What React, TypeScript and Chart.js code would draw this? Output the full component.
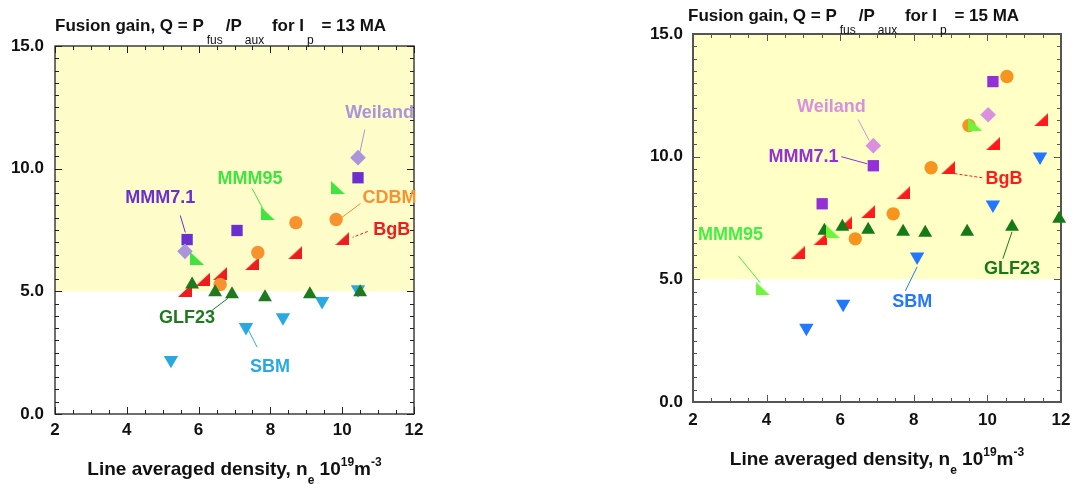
import React, { useEffect, useRef } from "react";
import { Chart, registerables } from "chart.js";
Chart.register(...registerables);

const FF = '"Liberation Sans", Arial, sans-serif';

// Axis ranges / tick labels
const X_MIN = 2, X_MAX = 12, X_STEP = 2;
const Y_MIN = 0, Y_MAX = 15, Y_STEP = 5;
const BAND_FROM = 5, BAND_TO = 15;

// ---------- Panel A: Ip = 13 MA ----------
const A_MMM71_X = [5.68, 7.07, 10.44];
const A_MMM71_Y = [7.11, 7.48, 9.63];
const A_WEILAND_X = [5.62, 10.44];
const A_WEILAND_Y = [6.63, 10.45];
const A_MMM95_X = [5.96, 7.93, 9.88];
const A_MMM95_Y = [6.34, 8.17, 9.23];
const A_CDBM_X = [6.6, 7.65, 8.71, 9.83];
const A_CDBM_Y = [5.28, 6.58, 7.8, 7.93];
const A_BGB_X = [5.62, 6.12, 6.6, 7.49, 8.69, 10.0];
const A_BGB_Y = [5.04, 5.49, 5.73, 6.13, 6.58, 7.15];
const A_GLF23_X = [5.82, 6.46, 6.93, 7.85, 9.1, 10.5];
const A_GLF23_Y = [5.28, 4.96, 4.88, 4.76, 4.88, 4.96];
const A_SBM_X = [5.23, 7.32, 8.35, 9.44, 10.44];
const A_SBM_Y = [2.2, 3.54, 3.94, 4.6, 5.08];

// ---------- Panel B: Ip = 15 MA ----------
const B_MMM71_X = [5.51, 6.9, 10.15];
const B_MMM71_Y = [8.08, 9.63, 13.06];
const B_WEILAND_X = [6.9, 10.02];
const B_WEILAND_Y = [10.45, 11.71];
const B_MMM95_X = [3.91, 5.81, 9.67];
const B_MMM95_Y = [4.61, 6.94, 11.31];
const B_CDBM_X = [6.41, 7.44, 8.47, 9.5, 10.53];
const B_CDBM_Y = [6.65, 7.67, 9.55, 11.27, 13.27];
const B_BGB_X = [4.84, 5.46, 6.14, 6.76, 7.71, 8.93, 10.15, 11.46];
const B_BGB_Y = [6.08, 6.65, 7.31, 7.76, 8.53, 9.55, 10.53, 11.51];
const B_GLF23_X = [5.57, 6.06, 6.76, 7.71, 8.31, 9.45, 10.67, 11.95];
const B_GLF23_Y = [6.98, 7.14, 7.02, 6.94, 6.9, 6.94, 7.14, 7.47];
const B_SBM_X = [5.08, 6.08, 8.09, 10.15, 11.43];
const B_SBM_Y = [3.02, 4.0, 5.92, 8.04, 10.0];

// Annotation labels: [text, textX, textY, lineX1, lineY1, lineX2, lineY2] in data units
type Ann = [string, number, number, number, number, number, number];
const A_LABELS: Ann[] = [
  ["Weiland", 11.04, 12.28, 10.63, 11.59, 10.49, 10.65],
  ["MMM7.1", 4.93, 8.82, 5.49, 8.09, 5.63, 7.4],
  ["MMM95", 7.43, 9.59, 7.49, 9.19, 7.85, 8.21],
  ["CDBM", 11.32, 8.82, 10.51, 8.58, 9.99, 8.01],
  ["BgB", 11.38, 7.48, 10.71, 7.44, 10.29, 7.2],
  ["GLF23", 5.68, 3.9, 6.38, 4.23, 6.82, 4.72],
  ["SBM", 7.99, 1.91, 7.63, 2.72, 7.35, 3.54],
];
const B_LABELS: Ann[] = [
  ["Weiland", 5.76, 12.04, 6.49, 11.51, 6.79, 10.65],
  ["MMM7.1", 5.0, 10.0, 6.03, 10.0, 6.73, 9.71],
  ["BgB", 10.45, 9.1, 9.86, 9.14, 8.93, 9.35],
  ["MMM95", 3.02, 6.82, 3.23, 5.96, 3.83, 4.86],
  ["SBM", 7.96, 4.08, 7.77, 4.53, 8.09, 5.51],
  ["GLF23", 10.67, 5.43, 10.42, 5.84, 10.67, 6.94],
];
const DASHED_LABELS = ["BgB"];

const A_TITLE_MA = "13";
const B_TITLE_MA = "15";

type Colors = Record<string, string>;
const A_COLORS: Colors = {
  "MMM7.1": "#6a2fd0",
  Weiland: "#aa94dc",
  MMM95: "#3fe43f",
  CDBM: "#f7922e",
  BgB: "#ee1c1c",
  GLF23: "#1f7a1f",
  SBM: "#29a9e1",
};
const B_COLORS: Colors = {
  "MMM7.1": "#9430d8",
  Weiland: "#da8fdf",
  MMM95: "#6df53a",
  CDBM: "#f7941d",
  BgB: "#ff1a1a",
  GLF23: "#157a15",
  SBM: "#2277ff",
};
const B_TEXT_COLORS: Colors = { ...B_COLORS, MMM95: "#44ee44" };

type Part = { t: string; k?: "sub" | "sup" };

function drawRich(
  ctx: CanvasRenderingContext2D,
  parts: Part[],
  x: number,
  y: number,
  size: number,
  small: number,
  smallWeight: string,
  subDy: number,
  supDy: number,
  subGap: number,
  align: "left" | "center",
  color: string
) {
  const mainF = `bold ${size}px ${FF}`;
  const smallF = `${smallWeight} ${small}px ${FF}`;
  const widths = parts.map((p) => {
    ctx.font = p.k ? smallF : mainF;
    return ctx.measureText(p.t).width + (p.k === "sub" ? 2 * subGap : 0);
  });
  const total = widths.reduce((a, b) => a + b, 0);
  let cx = align === "center" ? x - total / 2 : x;
  ctx.fillStyle = color;
  ctx.textAlign = "left";
  ctx.textBaseline = "alphabetic";
  parts.forEach((p, i) => {
    ctx.font = p.k ? smallF : mainF;
    const dy = p.k === "sub" ? subDy : p.k === "sup" ? supDy : 0;
    ctx.fillText(p.t, cx + (p.k === "sub" ? subGap : 0), y + dy);
    cx += widths[i];
  });
}

function rightTriangle(color: string, w: number, h: number, mirror: boolean) {
  const c = document.createElement("canvas");
  c.width = w;
  c.height = h;
  const g = c.getContext("2d")!;
  g.fillStyle = color;
  g.beginPath();
  if (mirror) {
    g.moveTo(0, 0);
    g.lineTo(0, h);
    g.lineTo(w, h);
  } else {
    g.moveTo(0, h);
    g.lineTo(w, h);
    g.lineTo(w, 0);
  }
  g.closePath();
  g.fill();
  return c;
}

interface PanelSpec {
  ma: string;
  colors: Colors;
  textColors: Colors;
  labels: Ann[];
  series: { name: string; xs: number[]; ys: number[] }[];
  area: { left: number; right: number; top: number; bottom: number };
  canvasW: number;
  canvasH: number;
  frameColor: string;
  frameWidth: number;
  band: string;
  titleX: number;
  titleY: number;
  axisTitleY: number;
  xLabelPad: number;
  yLabelPad: number;
}

function pts(xs: number[], ys: number[]) {
  return xs.map((x, i) => ({ x, y: ys[i] }));
}

function makeConfig(s: PanelSpec): any {
  const c = s.colors;
  const styleFor = (name: string): any => {
    switch (name) {
      case "Weiland":
        return { pointStyle: "rectRot", pointRadius: 7.8, rotation: 0 };
      case "MMM95":
        return { pointStyle: rightTriangle(c.MMM95, 14, 13, true), pointRadius: 7 };
      case "GLF23":
        return { pointStyle: "triangle", pointRadius: 8, rotation: 0 };
      case "MMM7.1":
        return { pointStyle: "rect", pointRadius: 8, rotation: 0 };
      case "CDBM":
        return { pointStyle: "circle", pointRadius: 6.7, rotation: 0 };
      case "BgB":
        return { pointStyle: rightTriangle(c.BgB, 14, 13, false), pointRadius: 7 };
      case "SBM":
        return { pointStyle: "triangle", pointRadius: 8.3, rotation: 180 };
    }
    return {};
  };
  const datasets = s.series.map((se) => ({
    label: se.name,
    data: pts(se.xs, se.ys),
    backgroundColor: c[se.name],
    borderColor: c[se.name],
    borderWidth: 0,
    showLine: false,
    clip: false,
    pointHoverRadius: 0,
    ...styleFor(se.name),
  }));

  const decor = {
    id: "decor",
    beforeDatasetsDraw(chart: any) {
      const { ctx, chartArea: a, scales } = chart;
      const x = scales.x, y = scales.y;
      ctx.save();
      ctx.fillStyle = s.band;
      const yt = y.getPixelForValue(BAND_TO), yb = y.getPixelForValue(BAND_FROM);
      ctx.fillRect(a.left, yt, a.right - a.left, yb - yt);
      ctx.strokeStyle = s.frameColor;
      ctx.lineWidth = 1;
      ctx.beginPath();
      for (let v = X_MIN; v <= X_MAX + 1e-9; v += 0.5) {
        const px = Math.round(x.getPixelForValue(v)) + 0.5;
        const len = Math.abs(v % 2) < 1e-9 ? 7 : 4;
        ctx.moveTo(px, a.bottom);
        ctx.lineTo(px, a.bottom - len);
        ctx.moveTo(px, a.top);
        ctx.lineTo(px, a.top + len);
      }
      for (let v = Y_MIN; v <= Y_MAX + 1e-9; v += 0.5) {
        const py = Math.round(y.getPixelForValue(v)) + 0.5;
        const len = Math.abs(v % 5) < 1e-9 ? 7 : 4;
        ctx.moveTo(a.left, py);
        ctx.lineTo(a.left + len, py);
        ctx.moveTo(a.right, py);
        ctx.lineTo(a.right - len, py);
      }
      ctx.stroke();
      ctx.lineWidth = s.frameWidth;
      ctx.strokeRect(a.left, a.top, a.right - a.left, a.bottom - a.top);
      ctx.restore();
    },
    afterDatasetsDraw(chart: any) {
      const { ctx, scales } = chart;
      const x = scales.x, y = scales.y;
      ctx.save();
      s.labels.forEach(([t, tx, ty, x1, y1, x2, y2]) => {
        const col = s.textColors[t];
        ctx.strokeStyle = col;
        ctx.lineWidth = 1;
        ctx.setLineDash(DASHED_LABELS.includes(t) ? [3, 2] : []);
        ctx.beginPath();
        ctx.moveTo(x.getPixelForValue(x1), y.getPixelForValue(y1));
        ctx.lineTo(x.getPixelForValue(x2), y.getPixelForValue(y2));
        ctx.stroke();
        ctx.setLineDash([]);
        ctx.fillStyle = col;
        ctx.font = `bold 18px ${FF}`;
        ctx.textAlign = "center";
        ctx.textBaseline = "middle";
        ctx.fillText(t, x.getPixelForValue(tx), y.getPixelForValue(ty));
      });
      ctx.restore();
    },
    afterDraw(chart: any) {
      const { ctx, chartArea: a } = chart;
      ctx.save();
      drawRich(
        ctx,
        [
          { t: "Fusion gain, Q = P" },
          { t: "fus", k: "sub" },
          { t: "/P" },
          { t: "aux", k: "sub" },
          { t: " for I" },
          { t: "p", k: "sub" },
          { t: ` = ${s.ma} MA` },
        ],
        s.titleX,
        s.titleY,
        17,
        12,
        "normal",
        13,
        0,
        3,
        "left",
        "#111"
      );
      drawRich(
        ctx,
        [
          { t: "Line averaged density, n" },
          { t: "e", k: "sub" },
          { t: " 10" },
          { t: "19", k: "sup" },
          { t: "m" },
          { t: "-3", k: "sup" },
        ],
        (a.left + a.right) / 2,
        s.axisTitleY,
        19,
        12,
        "bold",
        9,
        -9,
        0,
        "center",
        "#111"
      );
      ctx.restore();
    },
  };

  return {
    type: "scatter",
    data: { datasets },
    plugins: [decor],
    options: {
      responsive: false,
      animation: false,
      events: [],
      layout: {
        padding: {
          left: 0,
          top: s.area.top,
          right: s.canvasW - s.area.right,
          bottom: 0,
        },
      },
      plugins: { legend: { display: false }, tooltip: { enabled: false }, title: { display: false } },
      scales: {
        x: {
          type: "linear",
          min: X_MIN,
          max: X_MAX,
          grid: { display: false, drawTicks: false },
          border: { display: false },
          ticks: {
            stepSize: X_STEP,
            padding: s.xLabelPad,
            color: "#111",
            font: { family: FF, size: 17, weight: "bold" },
            maxRotation: 0,
          },
          afterFit(sc: any) {
            sc.height = s.canvasH - s.area.bottom;
            sc.paddingLeft = 0;
            sc.paddingRight = 0;
          },
        },
        y: {
          type: "linear",
          min: Y_MIN,
          max: Y_MAX,
          grid: { display: false, drawTicks: false },
          border: { display: false },
          ticks: {
            stepSize: Y_STEP,
            padding: s.yLabelPad,
            color: "#111",
            font: { family: FF, size: 17, weight: "bold" },
            callback: (v: number) => Number(v).toFixed(1),
          },
          afterFit(sc: any) {
            sc.width = s.area.left;
            sc.paddingTop = 0;
            sc.paddingBottom = 0;
          },
        },
      },
    },
  };
}

function seriesList(
  mmm71: [number[], number[]],
  weiland: [number[], number[]],
  mmm95: [number[], number[]],
  glf23: [number[], number[]],
  cdbm: [number[], number[]],
  bgb: [number[], number[]],
  sbm: [number[], number[]]
) {
  return [
    { name: "Weiland", xs: weiland[0], ys: weiland[1] },
    { name: "MMM95", xs: mmm95[0], ys: mmm95[1] },
    { name: "GLF23", xs: glf23[0], ys: glf23[1] },
    { name: "MMM7.1", xs: mmm71[0], ys: mmm71[1] },
    { name: "CDBM", xs: cdbm[0], ys: cdbm[1] },
    { name: "BgB", xs: bgb[0], ys: bgb[1] },
    { name: "SBM", xs: sbm[0], ys: sbm[1] },
  ];
}

const CANVAS_W = 537;
const CANVAS_H = 484;

export default function App() {
  const aRef = useRef<HTMLCanvasElement>(null);
  const bRef = useRef<HTMLCanvasElement>(null);

  useEffect(() => {
    const specA: PanelSpec = {
      ma: A_TITLE_MA,
      colors: A_COLORS,
      textColors: A_COLORS,
      labels: A_LABELS,
      series: seriesList(
        [A_MMM71_X, A_MMM71_Y],
        [A_WEILAND_X, A_WEILAND_Y],
        [A_MMM95_X, A_MMM95_Y],
        [A_GLF23_X, A_GLF23_Y],
        [A_CDBM_X, A_CDBM_Y],
        [A_BGB_X, A_BGB_Y],
        [A_SBM_X, A_SBM_Y]
      ),
      area: { left: 55, right: 414, top: 46, bottom: 414 },
      canvasW: CANVAS_W,
      canvasH: CANVAS_H,
      frameColor: "#222",
      frameWidth: 1.3,
      band: "#fefcc8",
      titleX: 55,
      titleY: 31,
      axisTitleY: 475,
      xLabelPad: 6,
      yLabelPad: 11,
    };
    const specB: PanelSpec = {
      ma: B_TITLE_MA,
      colors: B_COLORS,
      textColors: B_TEXT_COLORS,
      labels: B_LABELS,
      series: seriesList(
        [B_MMM71_X, B_MMM71_Y],
        [B_WEILAND_X, B_WEILAND_Y],
        [B_MMM95_X, B_MMM95_Y],
        [B_GLF23_X, B_GLF23_Y],
        [B_CDBM_X, B_CDBM_Y],
        [B_BGB_X, B_BGB_Y],
        [B_SBM_X, B_SBM_Y]
      ),
      area: { left: 156, right: 524, top: 34, bottom: 402 },
      canvasW: CANVAS_W,
      canvasH: CANVAS_H,
      frameColor: "#555",
      frameWidth: 2,
      band: "#ffffc6",
      titleX: 151,
      titleY: 21,
      axisTitleY: 465,
      xLabelPad: 8,
      yLabelPad: 10,
    };
    const ca = new Chart(aRef.current!, makeConfig(specA));
    const cb = new Chart(bRef.current!, makeConfig(specB));
    return () => {
      ca.destroy();
      cb.destroy();
    };
  }, []);

  return (
    <div style={{ position: "absolute", left: 0, top: 0, width: 1074, height: 484, background: "#fff" }}>
      <div style={{ position: "absolute", left: 0, top: 0, width: CANVAS_W, height: CANVAS_H }}>
        <canvas ref={aRef} width={CANVAS_W} height={CANVAS_H} style={{ width: CANVAS_W, height: CANVAS_H }} />
      </div>
      <div style={{ position: "absolute", left: CANVAS_W, top: 0, width: CANVAS_W, height: CANVAS_H }}>
        <canvas ref={bRef} width={CANVAS_W} height={CANVAS_H} style={{ width: CANVAS_W, height: CANVAS_H }} />
      </div>
    </div>
  );
}
